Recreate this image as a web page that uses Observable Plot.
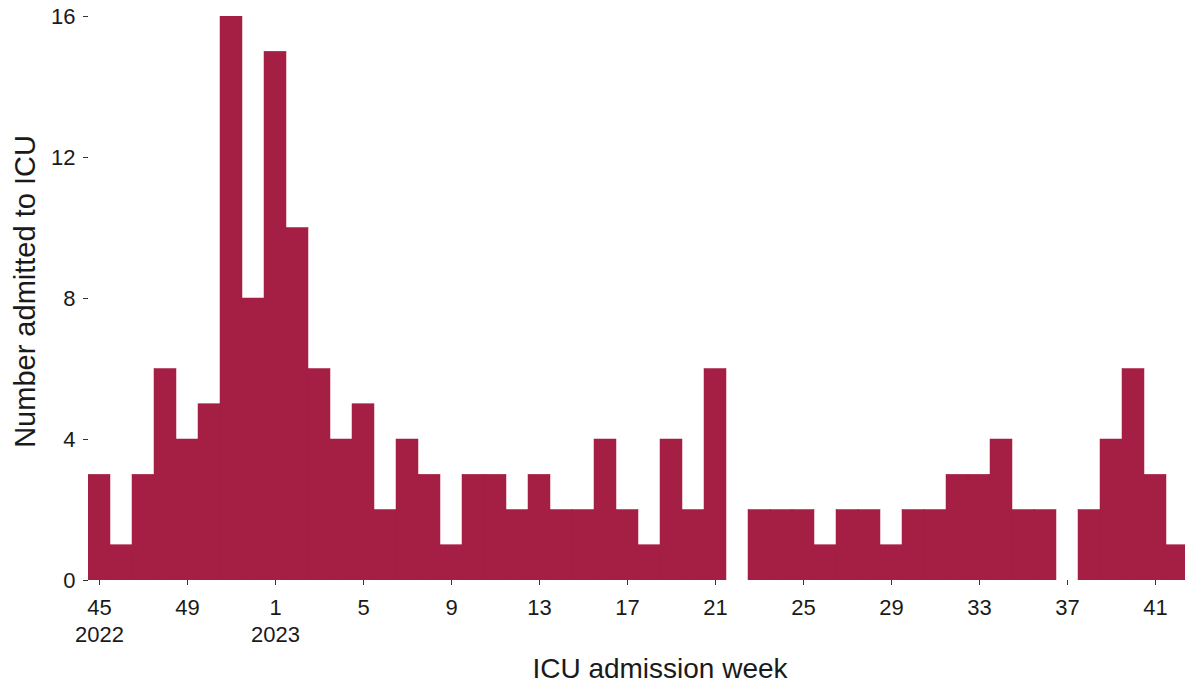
<!DOCTYPE html>
<html>
<head>
<meta charset="utf-8">
<script src="https://cdn.jsdelivr.net/npm/d3@7"></script>
<script src="https://cdn.jsdelivr.net/npm/@observablehq/plot@0.6"></script>
<style>
  html, body { margin: 0; padding: 0; background: #ffffff; overflow: hidden; }
  body { font-family: "Liberation Sans", Arial, sans-serif; position: relative; width: 1185px; height: 685px; }
  #chart { position: absolute; left: 0; top: 0; }
  #xlabel { position: absolute; top: 655px; left: 88px; width: 1144px; text-align: center;
            font-size: 28px; line-height: 28px; color: #1a1a1a; white-space: nowrap; }
</style>
</head>
<body>
<div id="chart"></div>
<div id="xlabel">ICU admission week</div>
<script>
// ISO weeks shown on the x axis (week 45 2022 .. week 42 2023)
const weeks2022 = [45, 46, 47, 48, 49, 50, 51, 52];
const weeks2023 = [1, 2, 3, 4, 5, 6, 7, 8, 9, 10, 11, 12, 13, 14, 15, 16, 17, 18, 19, 20, 21,
                   22, 23, 24, 25, 26, 27, 28, 29, 30, 31, 32, 33, 34, 35, 36, 37, 38, 39, 40, 41, 42];
// Number admitted to ICU per week
const counts2022 = [3, 1, 3, 6, 4, 5, 16, 8];
const counts2023 = [15, 10, 6, 4, 5, 2, 4, 3, 1, 3, 3, 2, 3, 2, 2, 4, 2, 1, 4, 2, 6,
                    0, 2, 2, 2, 1, 2, 2, 1, 2, 2, 3, 3, 4, 2, 2, 0, 2, 4, 6, 3, 1];
// Tick labels (every 4th week)
const xTickLabels = ["45\n2022", "49", "1\n2023", "5", "9", "13", "17", "21", "25", "29", "33", "37", "41"];
const yTicks = [0, 4, 8, 12, 16];
const yTitle = "Number admitted to ICU";

const data = [
  ...weeks2022.map((w, k) => ({week: w, year: 2022, count: counts2022[k]})),
  ...weeks2023.map((w, k) => ({week: w, year: 2023, count: counts2023[k]}))
].map((d, i) => ({...d, i}));

const W = 1185, H = 685;
const marginLeft = 88, marginRight = 0, marginTop = 16, marginBottom = H - 580;
const pxPerWeek = 22;
const xMax = -0.5 + (W - marginLeft - marginRight) / pxPerWeek;
const tickIdx = xTickLabels.map((_, k) => k * 4);

const fillColor = "#a51f45";

const chart = Plot.plot({
  width: W,
  height: H,
  marginLeft, marginRight, marginTop, marginBottom,
  style: {fontFamily: "Liberation Sans, Arial, sans-serif", fontSize: "22px", background: "#ffffff", color: "#1a1a1a"},
  x: {type: "linear", domain: [-0.5, xMax]},
  y: {domain: [0, 16]},
  marks: [
    Plot.rectY(data, {
      x1: d => d.i - 0.5,
      x2: d => d.i + 0.5,
      y: "count",
      fill: fillColor,
      stroke: fillColor,
      strokeWidth: 0.5,
      clip: true
    }),
    Plot.axisY({
      ticks: yTicks,
      tickSize: 5,
      tickPadding: 8,
      fontSize: 22,
      stroke: "#333333",
      fill: "#1a1a1a",
      label: null
    }),
    Plot.text([yTitle], {
      text: d => d,
      frameAnchor: "left",
      rotate: -90,
      textAnchor: "middle",
      lineAnchor: "middle",
      dx: -63,
      dy: -7,
      fontSize: 29,
      fill: "#1a1a1a"
    }),
    Plot.axisX({
      ticks: tickIdx,
      tickFormat: v => xTickLabels[Math.round(v / 4)],
      tickSize: 5,
      tickPadding: 11,
      fontSize: 22,
      lineHeight: 1.2,
      stroke: "#333333",
      fill: "#1a1a1a",
      label: null
    })
  ]
});
document.getElementById("chart").appendChild(chart);
</script>
</body>
</html>
